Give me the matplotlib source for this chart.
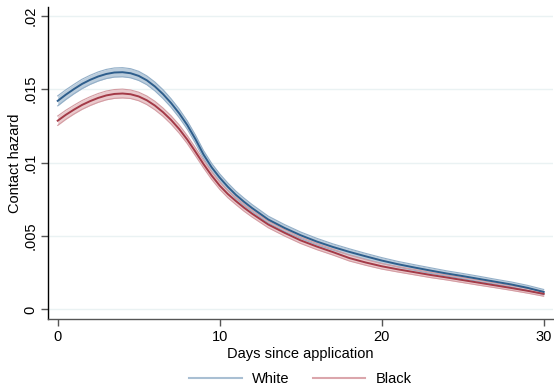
import numpy as np
import matplotlib.pyplot as plt
from matplotlib.lines import Line2D

plt.rcParams['font.family'] = ['Liberation Sans', 'DejaVu Sans']

# days since application (half days where the curve bends most)
days = [0, 0.5, 1, 1.5, 2, 2.5, 3, 3.5, 4, 4.5, 5, 5.5, 6, 6.5, 7, 7.5,
        8, 8.5, 9, 9.5, 10, 10.5, 11, 11.5, 12,
        13, 14, 15, 16, 17, 18, 19, 20, 21, 22, 23, 24, 25, 26, 27, 28, 29, 30]

# estimated contact hazard, White
white = [0.01420, 0.01462, 0.01500, 0.01535, 0.01563, 0.01586, 0.01603, 0.01613,
         0.01615, 0.01608, 0.01590, 0.01560, 0.01518, 0.01466, 0.01405, 0.01335,
         0.01255, 0.01160, 0.01055, 0.00968, 0.00897, 0.00835, 0.00780, 0.00733,
         0.00690,
         0.00612, 0.00555, 0.00505, 0.00462, 0.00425, 0.00392, 0.00362, 0.00333,
         0.00308, 0.00286, 0.00265, 0.00245, 0.00227, 0.00208, 0.00189, 0.00170,
         0.00147, 0.00119]

# estimated contact hazard, Black
black = [0.01285, 0.01325, 0.01360, 0.01392, 0.01418, 0.01440, 0.01457, 0.01467,
         0.01470, 0.01465, 0.01450, 0.01424, 0.01388, 0.01343, 0.01290, 0.01228,
         0.01156, 0.01074, 0.00990, 0.00912, 0.00843, 0.00786, 0.00738, 0.00693,
         0.00652,
         0.00578, 0.00522, 0.00470, 0.00428, 0.00390, 0.00350, 0.00320, 0.00294,
         0.00273, 0.00254, 0.00235, 0.00218, 0.00200, 0.00182, 0.00164, 0.00146,
         0.00127, 0.00106]

# half width of the confidence band
ci_white = [0.00034, 0.00033, 0.00032, 0.00032, 0.00031, 0.00031, 0.00031, 0.00031,
            0.00031, 0.00031, 0.00031, 0.00030, 0.00030, 0.00030, 0.00029, 0.00029,
            0.00028, 0.00028, 0.00027, 0.00027, 0.00026, 0.00026, 0.00025, 0.00025,
            0.00024,
            0.00023, 0.00023, 0.00022, 0.00022, 0.00021, 0.00021, 0.00020, 0.00020,
            0.00019, 0.00019, 0.00019, 0.00018, 0.00018, 0.00018, 0.00017, 0.00017,
            0.00017, 0.00017]
ci_black = [0.00032, 0.00031, 0.00030, 0.00030, 0.00030, 0.00030, 0.00030, 0.00030,
            0.00030, 0.00029, 0.00029, 0.00029, 0.00029, 0.00028, 0.00028, 0.00028,
            0.00027, 0.00027, 0.00026, 0.00026, 0.00025, 0.00025, 0.00024, 0.00024,
            0.00023,
            0.00022, 0.00022, 0.00021, 0.00021, 0.00020, 0.00020, 0.00019, 0.00019,
            0.00018, 0.00018, 0.00018, 0.00017, 0.00017, 0.00017, 0.00016, 0.00016,
            0.00016, 0.00016]

xticks = [0, 10, 20, 30]
yticks = [0, 0.005, 0.01, 0.015, 0.02]
ytick_labels = ["0", ".005", ".01", ".015", ".02"]

days = np.array(days)
white = np.array(white)
black = np.array(black)
ci_white = np.array(ci_white)
ci_black = np.array(ci_black)

blue_line = "#2E5E8C"
blue_band = "#BCCDDC"
blue_edge = "#93AFC8"
red_line = "#A33A47"
red_band = "#EACACD"
red_edge = "#D49DA3"

fig = plt.figure(figsize=(5.54, 3.86), dpi=100)
ax = fig.add_axes([0.0872, 0.1736, 0.9108, 0.8083])

for y in yticks:
    ax.axhline(y, color="#EAF2F3", lw=1.0, zorder=0)

ax.fill_between(days, white - ci_white, white + ci_white, color=blue_band, lw=0, zorder=1)
ax.plot(days, white - ci_white, color=blue_edge, lw=0.8, zorder=2)
ax.plot(days, white + ci_white, color=blue_edge, lw=0.8, zorder=2)

ax.fill_between(days, black - ci_black, black + ci_black, color=red_band, lw=0, zorder=1)
ax.plot(days, black - ci_black, color=red_edge, lw=0.8, zorder=2)
ax.plot(days, black + ci_black, color=red_edge, lw=0.8, zorder=2)

ax.plot(days, white, color=blue_line, lw=1.4, zorder=3)
ax.plot(days, black, color=red_line, lw=1.4, zorder=3)

ax.set_xlim(-0.58, 30.57)
ax.set_ylim(-0.00065, 0.02059)

ax.set_xticks(xticks)
ax.set_yticks(yticks)
ax.set_yticklabels(ytick_labels, rotation=90, va="center")

ax.spines["top"].set_visible(False)
ax.spines["right"].set_visible(False)
ax.spines["left"].set_color("black")
ax.spines["bottom"].set_color("#555555")
ax.spines["left"].set_linewidth(1.0)
ax.spines["bottom"].set_linewidth(1.0)

ax.tick_params(axis="both", direction="out", length=5, width=1.0, color="#555555",
               labelsize=10.5, pad=3)

ax.set_xlabel("Days since application", fontsize=10.5, labelpad=2)
ax.set_ylabel("Contact hazard", fontsize=10.5)
ax.yaxis.set_label_coords(-0.052, 0.5)

handles = [Line2D([], [], color="#A9BFD3", lw=1.5),
           Line2D([], [], color="#DBA6AC", lw=1.5)]
fig.legend(handles, ["White", "Black"], loc="center", bbox_to_anchor=(0.542, 0.018),
           ncol=2, frameon=False, fontsize=10.5, handlelength=3.6,
           handletextpad=0.7, columnspacing=1.6)

fig.savefig("out.png", dpi=100)
